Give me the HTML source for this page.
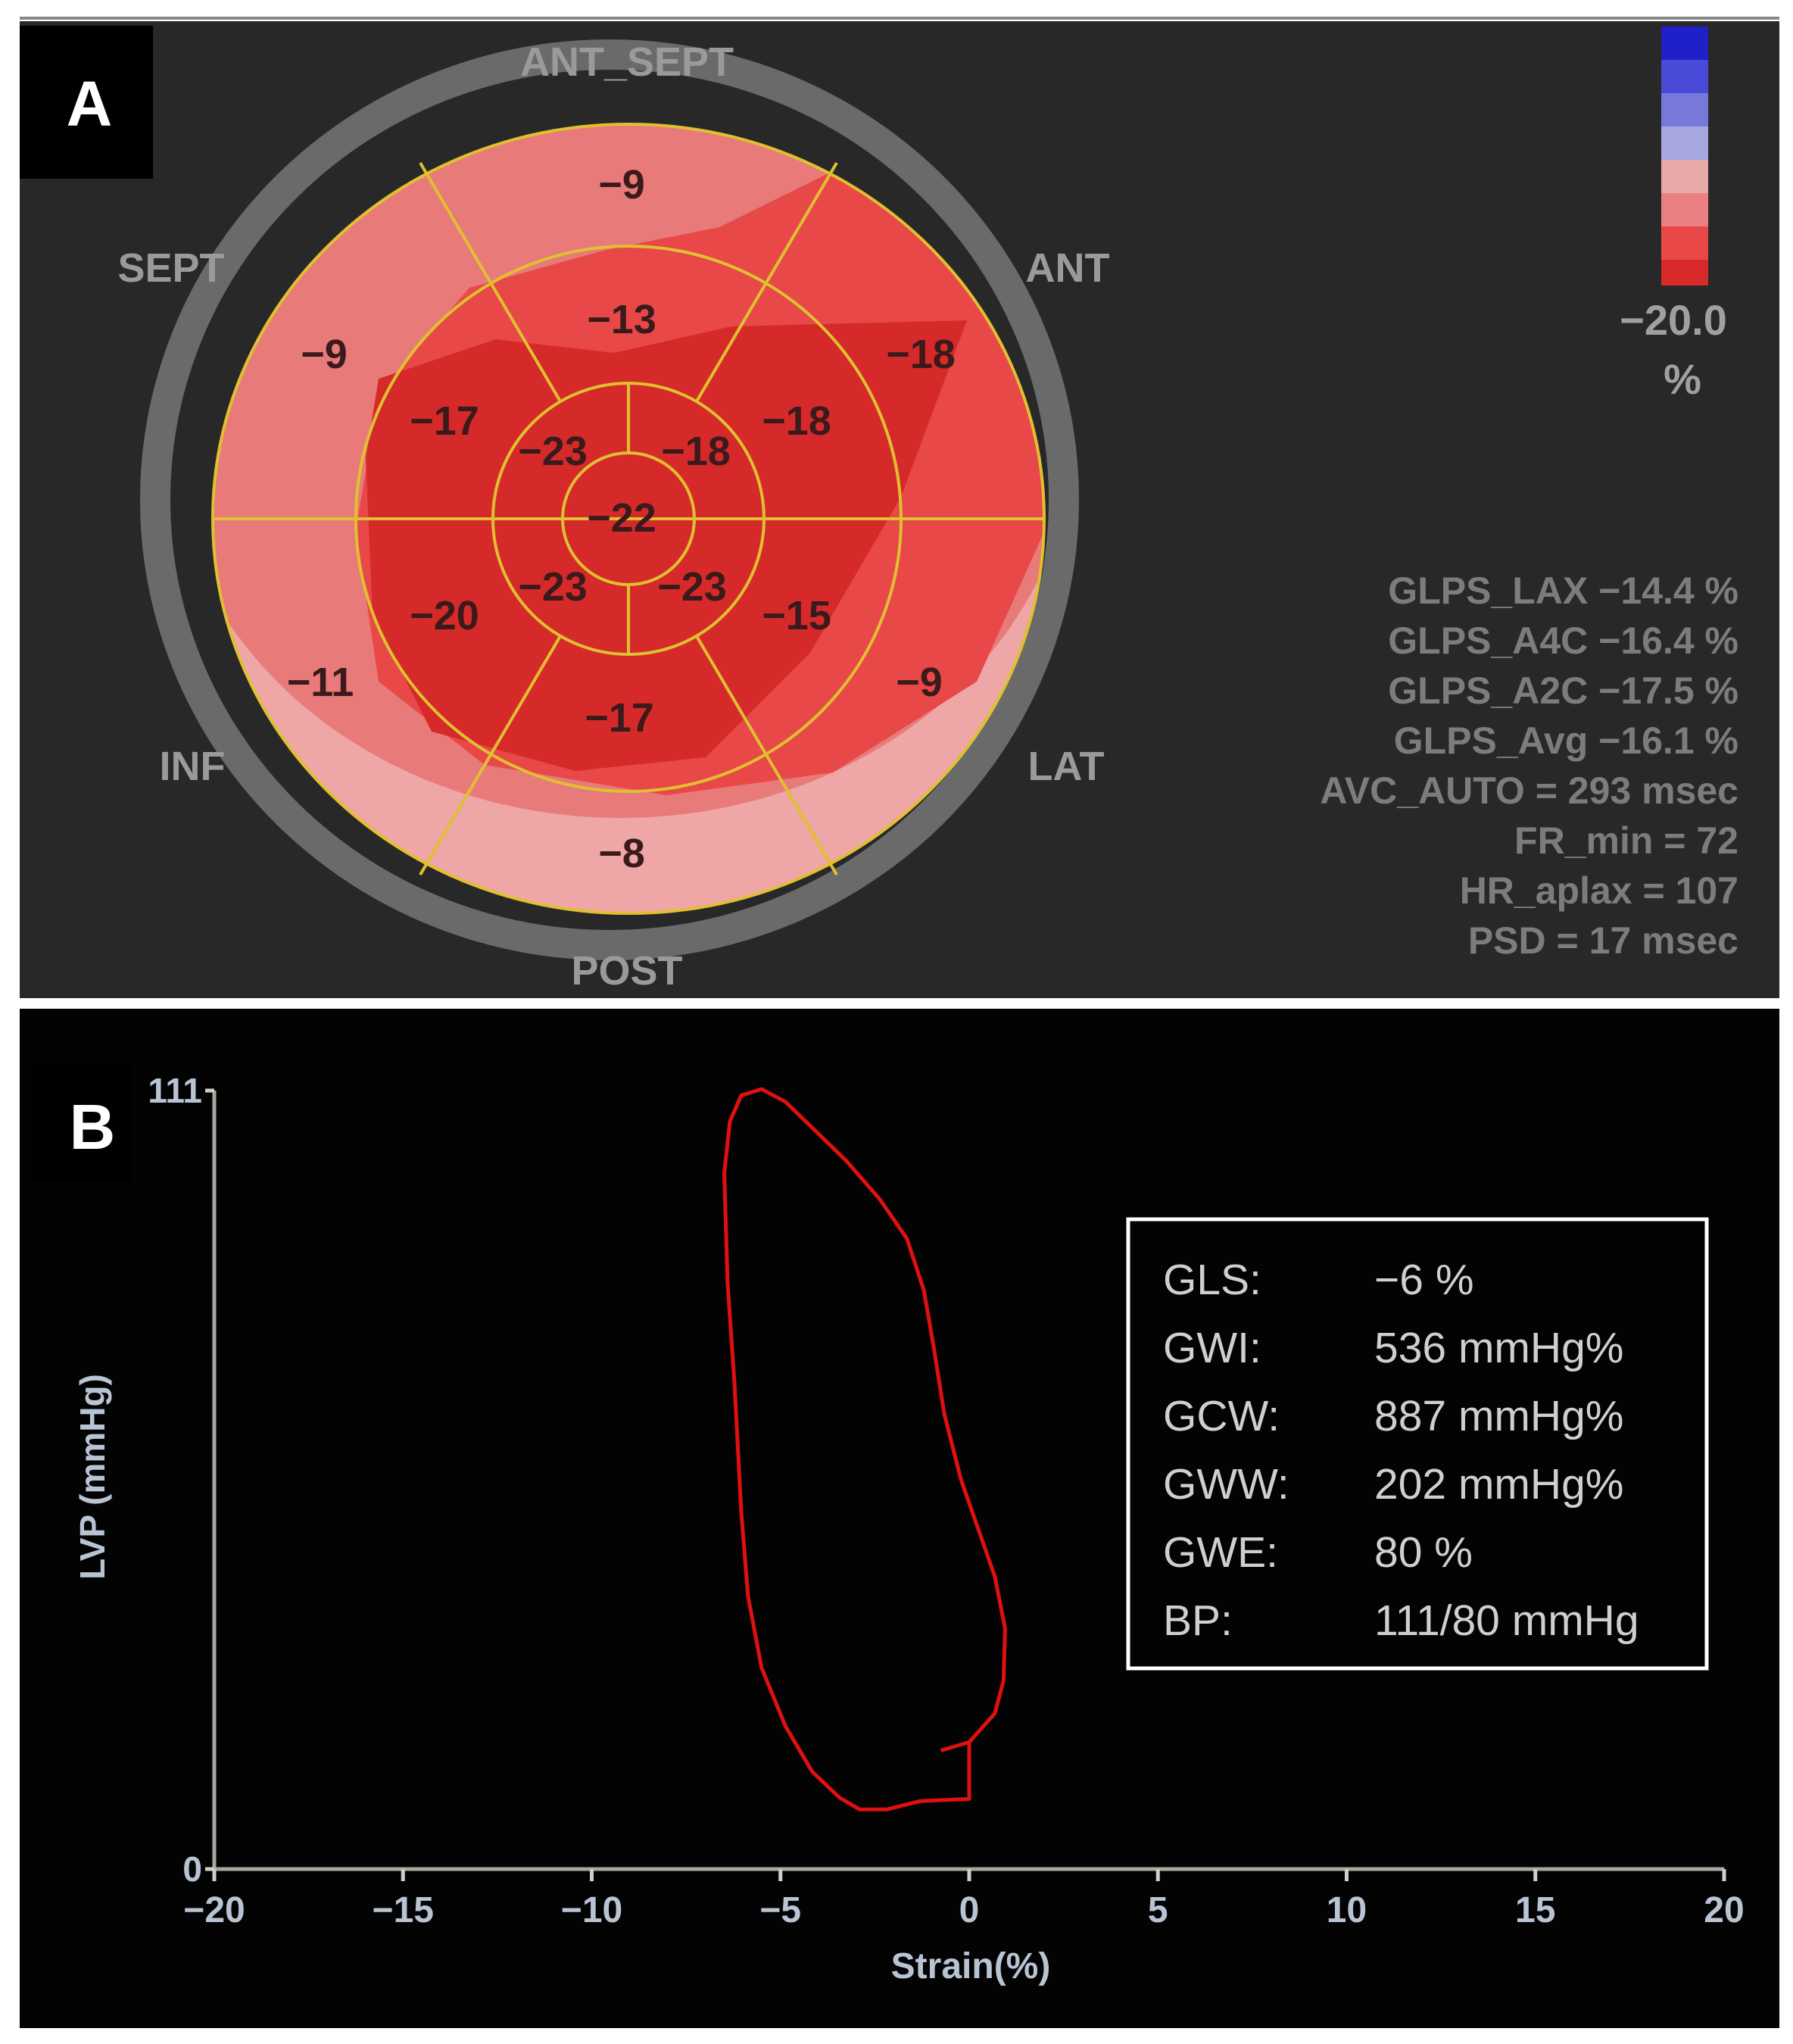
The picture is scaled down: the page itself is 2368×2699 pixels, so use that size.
<!DOCTYPE html>
<html><head><meta charset="utf-8"><style>
html,body{margin:0;padding:0;background:#fff;}
body{width:2368px;height:2699px;position:relative;overflow:hidden;font-family:"Liberation Sans",sans-serif;}
svg{position:absolute;left:0;top:0;}
</style></head><body>
<svg width="2368" height="2699" viewBox="0 0 2368 2699">
<defs>
<clipPath id="bull"><ellipse cx="830" cy="685" rx="549" ry="521"/></clipPath>
</defs>
<line x1="26" y1="24" x2="2350" y2="24" stroke="#888" stroke-width="4"/>
<rect x="26" y="28" width="2324" height="1290" fill="#282828"/>
<rect x="26" y="34" width="176" height="202" fill="#000"/>
<text x="118" y="166" font-size="84" font-weight="bold" fill="#fff" text-anchor="middle">A</text>
<ellipse cx="805" cy="660" rx="600" ry="588" fill="none" stroke="#6a6a6a" stroke-width="40"/>
<g clip-path="url(#bull)">
<ellipse cx="830" cy="685" rx="549" ry="521" fill="#e97a7a"/>
<path fill-rule="evenodd" fill="#eea6a6" d="M200 100H1460V1300H200Z M1420 560 A600 520 0 1 0 220 560 A600 520 0 1 0 1420 560Z"/>
<path fill="#e84848" d="M1104 224 L1300 300 L1390 560 L1380 700 L1290 900 L1100 1020 L880 1050 L640 1010 L500 900 L470 700 L500 520 L620 380 L800 330 L950 300Z"/>
<path fill="#d62a2a" d="M500 500 L655 448 L811 466 L966 431 L1277 423 L1190 656 L1070 862 L932 1000 L760 1018 L570 966 L492 811 L483 604Z"/>
</g>
<g stroke="#e0c030" stroke-width="4" fill="none">
<ellipse cx="830" cy="685" rx="549" ry="521"/>
<circle cx="830" cy="685" r="360"/>
<circle cx="830" cy="685" r="179"/>
<circle cx="830" cy="685" r="87"/>
<line x1="281" y1="685" x2="1379" y2="685"/>
<line x1="830" y1="506" x2="830" y2="598"/>
<line x1="830" y1="772" x2="830" y2="864"/>
<line x1="740" y1="530" x2="555" y2="215"/>
<line x1="920" y1="530" x2="1105" y2="215"/>
<line x1="740" y1="840" x2="555" y2="1155"/>
<line x1="920" y1="840" x2="1105" y2="1155"/>
</g>
<g font-size="54" font-weight="bold" fill="#3a1a1a" text-anchor="middle">
<text x="821" y="262">−9</text><text x="821" y="440">−13</text>
<text x="428" y="486">−9</text><text x="1216" y="486">−18</text>
<text x="587" y="574">−17</text><text x="1052" y="574">−18</text>
<text x="730" y="614">−23</text><text x="919" y="614">−18</text>
<text x="821" y="702">−22</text>
<text x="730" y="793">−23</text><text x="914" y="793">−23</text>
<text x="587" y="831">−20</text><text x="1052" y="831">−15</text>
<text x="423" y="919">−11</text><text x="1214" y="919">−9</text>
<text x="818" y="966">−17</text><text x="821" y="1145">−8</text>
</g>
<g font-size="54" font-weight="bold" fill="#9a9a9a" text-anchor="middle">
<text x="828" y="100">ANT_SEPT</text><text x="226" y="372">SEPT</text>
<text x="1410" y="372">ANT</text><text x="254" y="1030">INF</text>
<text x="1408" y="1030">LAT</text><text x="828" y="1300">POST</text>
</g>
<g>
<rect x="2194" y="35" width="62" height="44" fill="#2020c8"/>
<rect x="2194" y="79" width="62" height="44" fill="#4a4ad8"/>
<rect x="2194" y="123" width="62" height="44" fill="#7878d8"/>
<rect x="2194" y="167" width="62" height="44" fill="#a8a8e0"/>
<rect x="2194" y="211" width="62" height="44" fill="#e8a8a8"/>
<rect x="2194" y="255" width="62" height="44" fill="#ea8080"/>
<rect x="2194" y="299" width="62" height="44" fill="#e84848"/>
<rect x="2194" y="343" width="62" height="34" fill="#d82a2a"/>
</g>
<text x="2210" y="442" font-size="56" font-weight="bold" fill="#a0a0a0" text-anchor="middle">−20.0</text>
<text x="2222" y="520" font-size="56" font-weight="bold" fill="#a0a0a0" text-anchor="middle">%</text>
<g font-size="50" font-weight="bold" fill="#7c7c7c" text-anchor="end">
<text x="2296" y="797">GLPS_LAX −14.4 %</text>
<text x="2296" y="863">GLPS_A4C −16.4 %</text>
<text x="2296" y="929">GLPS_A2C −17.5 %</text>
<text x="2296" y="995">GLPS_Avg −16.1 %</text>
<text x="2296" y="1061">AVC_AUTO = 293 msec</text>
<text x="2296" y="1127">FR_min = 72</text>
<text x="2296" y="1193">HR_aplax = 107</text>
<text x="2296" y="1259">PSD = 17 msec</text>
</g>
<rect x="26" y="1332" width="2324" height="1346" fill="#030303"/>
<rect x="43" y="1406" width="130" height="155" fill="#000"/>
<text x="122" y="1517" font-size="84" font-weight="bold" fill="#fff" text-anchor="middle">B</text>
<g id="chart"></g>
<rect x="1490" y="1610" width="764" height="593" fill="none" stroke="#fff" stroke-width="5"/>
<g font-size="57" fill="#cfcfcf">
<text x="1536" y="1709">GLS:</text><text x="1815" y="1709">−6 %</text>
<text x="1536" y="1799">GWI:</text><text x="1815" y="1799">536 mmHg%</text>
<text x="1536" y="1889">GCW:</text><text x="1815" y="1889">887 mmHg%</text>
<text x="1536" y="1979">GWW:</text><text x="1815" y="1979">202 mmHg%</text>
<text x="1536" y="2069">GWE:</text><text x="1815" y="2069">80 %</text>
<text x="1536" y="2159">BP:</text><text x="1815" y="2159">111/80 mmHg</text>
</g>
</svg>
<script>
const strain=[-0.75,0,0.68,0.91,0.95,0.68,0.14,-0.22,-0.66,-0.93,-1.2,-1.65,-2.37,-3.26,-4.16,-4.87,-5.5,-6.04,-6.34,-6.49,-6.4,-6.22,-6.04,-5.86,-5.5,-4.87,-4.16,-3.44,-2.9,-2.19,-1.29,0,0];
const pressure=[16.9,18.1,22.2,26.9,34.3,41.7,50,55.6,64.9,74.1,82.5,89.9,95.5,101,105.7,109.4,111.2,110.3,106.6,99.2,83.4,69.5,51,38.9,28.7,20.4,13.9,10.2,8.5,8.5,9.7,10,18.1];
const xTicks=[-20,-15,-10,-5,0,5,10,15,20];
const yTicks=[0,111];
const NS='http://www.w3.org/2000/svg';
const X0=283,X1=2277,Y0=2468,Y1=1440;
function sx(v){return X0+(v+20)/40*(X1-X0);}
function sy(v){return Y0-v/111*(Y0-Y1);}
const g=document.getElementById('chart');
function mk(t,a){const e=document.createElementNS(NS,t);for(const k in a)e.setAttribute(k,a[k]);g.appendChild(e);return e;}
let ax=mk('path',{d:`M${X0} ${Y1} V${Y0} H${X1}`,stroke:'#a8a8a0',"stroke-width":5,fill:'none'});


xTicks.forEach(t=>{
 let l=mk('line',{x1:sx(t),x2:sx(t),y1:Y0,y2:Y0+16,stroke:'#d0d0c8',"stroke-width":5});
 
 
 let tx=mk('text',{x:sx(t),y:Y0+70,"font-size":48,"font-weight":"bold",fill:'#b8c4d4',"text-anchor":"middle"});
 tx.textContent=t<0?'−'+(-t):String(t);
 
 
});
yTicks.forEach(t=>{
 let l=mk('line',{x1:X0-12,x2:X0,y1:sy(t),y2:sy(t),stroke:'#d0d0c8',"stroke-width":5});
 
 
 let tx=mk('text',{x:X0-16,y:sy(t)+16,"font-size":46,"font-weight":"bold",fill:'#b8c4d4',"text-anchor":"end"});
 tx.textContent=String(t);
 
 
});
let yl=mk('text',{x:0,y:0,"font-size":46,"font-weight":"bold",fill:'#b8c4d4',"text-anchor":"middle",transform:'translate(138,1950) rotate(-90)'});
yl.textContent='LVP (mmHg)';


let xl=mk('text',{x:1282,y:2612,"font-size":48,"font-weight":"bold",fill:'#b8c4d4',"text-anchor":"middle"});
xl.textContent='Strain(%)';


let d=strain.map((v,i)=>(i?'L':'M')+sx(v).toFixed(1)+' '+sy(pressure[i]).toFixed(1)).join(' ');
let p=mk('path',{d:d,stroke:'#e01010',"stroke-width":5,fill:'none',"stroke-linejoin":"round"});


</script>
</body></html>
